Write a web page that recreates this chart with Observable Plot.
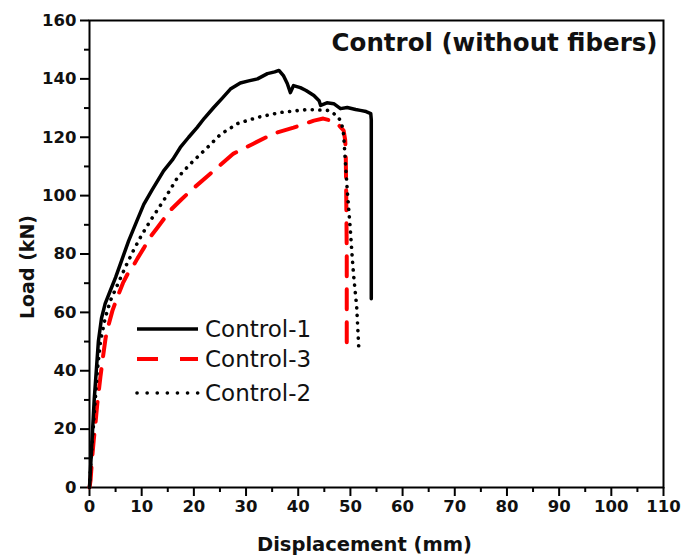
<!DOCTYPE html>
<html>
<head>
<meta charset="utf-8">
<script src="https://cdn.jsdelivr.net/npm/d3@7"></script>
<script src="https://cdn.jsdelivr.net/npm/@observablehq/plot@0.6"></script>
<style>
  html, body { margin: 0; padding: 0; background: #fff; }
  #chart svg { font-family: "DejaVu Sans", sans-serif; overflow: visible; }
</style>
</head>
<body>
<div id="chart"></div>
<script>
// Series: Control-1 (solid black)
const c1x = [0, 0.3, 0.6, 0.9, 1.3, 1.7, 2.3, 3.0, 4.0, 5.0, 6.2, 7.5, 9.0, 10.4, 12.0, 14.2, 16.0, 17.4, 19.0, 20.6, 22.0, 23.8, 25.5, 27.0, 28.9, 30.5, 32.2, 34.1, 35.5, 36.3, 37.2, 37.9, 38.5, 39.1, 40.4, 41.5, 43.0, 44.0, 44.3, 45.5, 46.8, 48.1, 49.4, 51.0, 51.9, 53.0, 53.9, 54.0, 54.0];
const c1y = [0, 10, 20, 30, 40, 50, 58, 63, 67.5, 72, 78, 84.5, 91, 97, 102, 108.5, 112.5, 116.5, 120, 123.3, 126.5, 130.2, 133.5, 136.5, 138.6, 139.3, 140, 141.8, 142.4, 142.9, 141, 138.4, 135.3, 137.7, 137, 136, 134.3, 132.5, 130.9, 131.8, 131.5, 129.8, 130.2, 129.5, 129.2, 128.8, 128.1, 126, 64.7];
// Series: Control-2 (dotted black)
const c2x = [0, 0.3, 0.7, 1.1, 1.5, 2.1, 3.0, 4.0, 5.5, 7.0, 8.5, 10.0, 11.7, 14.2, 16.8, 19.4, 22.6, 25.1, 28.4, 32.2, 36.6, 41.8, 45.6, 47.5, 48.3, 48.7, 48.9, 49.4, 50.0, 50.3, 50.6, 51.2, 51.6];
const c2y = [0, 10, 20, 30, 40, 50, 58, 64, 70, 76, 81.5, 86.5, 91.5, 98.3, 106, 111, 116.5, 121, 124.7, 126.8, 128.5, 129.5, 129.2, 127.4, 125, 121, 115.4, 101.7, 88, 80, 73, 62, 48];
// Series: Control-3 (dashed red)
const c3x = [0, 0.2, 0.5, 0.8, 1.2, 1.5, 2.1, 2.6, 3.1, 3.7, 4.4, 5.4, 6.4, 7.4, 8.4, 9.2, 10.4, 11.7, 13.0, 15.5, 17.5, 19.4, 23.2, 27.6, 31.4, 35.3, 39.1, 43.0, 44.8, 46.3, 47.5, 48.7, 49.0, 49.1, 49.2, 49.3, 49.3, 49.3];
const c3y = [0, 2.4, 10, 16, 23, 28.8, 38, 45, 51.4, 56, 60.6, 65.5, 70, 73.5, 76, 78.5, 82, 86, 89, 95, 98.5, 101.7, 107.6, 114.4, 117.8, 121.3, 123.3, 125.7, 126.4, 125.7, 124.7, 122.3, 119, 115.4, 100, 80, 60, 46];

const xTicks = [0, 10, 20, 30, 40, 50, 60, 70, 80, 90, 100, 110];
const xMinor = [5, 15, 25, 35, 45, 55, 65, 75, 85, 95, 105];
const yTicks = [0, 20, 40, 60, 80, 100, 120, 140, 160];
const yMinor = [10, 30, 50, 70, 90, 110, 130, 150];

const seriesNames = ["Control-1", "Control-3", "Control-2"];
const titleText = "Control (without fibers)";
const xLabel = "Displacement (mm)";
const yLabel = "Load (kN)";

const toRows = (xs, ys) => xs.map((x, i) => ({x, y: ys[i]}));
const s1 = toRows(c1x, c1y), s2 = toRows(c2x, c2y), s3 = toRows(c3x, c3y);

const chart = Plot.plot({
  width: 681,
  height: 555,
  marginLeft: 89,
  marginRight: 18,
  marginTop: 20,
  marginBottom: 68,
  x: {domain: [0, 110]},
  y: {domain: [0, 160]},
  marks: [
    Plot.frame({stroke: "#000", strokeWidth: 2}),
    Plot.axisX(xTicks, {tickSize: 9, tickPadding: 4, strokeWidth: 2, fontSize: 16.5, fontWeight: "bold", fill: "#111", label: null}),
    Plot.axisX(xMinor, {tickSize: 5, strokeWidth: 2, text: null, label: null}),
    Plot.axisY(yTicks, {tickSize: 9, tickPadding: 4, strokeWidth: 2, fontSize: 16.5, fontWeight: "bold", fill: "#111", label: null}),
    Plot.axisY(yMinor, {tickSize: 5, strokeWidth: 2, text: null, label: null}),
    Plot.line(s3, {x: "x", y: "y", stroke: "#ff0000", strokeWidth: 4, strokeDasharray: "20,13"}),
    Plot.line(s2, {x: "x", y: "y", stroke: "#000", strokeWidth: 3.6, strokeDasharray: "0.1,7.5", strokeLinecap: "round"}),
    Plot.line(s1, {x: "x", y: "y", stroke: "#000", strokeWidth: 3.5}),
    Plot.text([titleText], {frameAnchor: "top-right", dx: -6, dy: 23, lineAnchor: "middle", textAnchor: "end", fontSize: 24.5, fontWeight: "bold", fill: "#111"}),
    Plot.text([xLabel], {frameAnchor: "bottom", dx: -12, dy: 57, lineAnchor: "middle", textAnchor: "middle", fontSize: 19.5, fontWeight: "bold", fill: "#111"}),
    Plot.text([yLabel], {frameAnchor: "left", dx: -62, dy: 13, rotate: -90, lineAnchor: "middle", textAnchor: "middle", fontSize: 19, fontWeight: "bold", fill: "#111"})
  ]
});
document.getElementById("chart").appendChild(chart);

// Legend (inside plot area)
const svg = d3.select(chart);
const leg = svg.append("g");
const legStyles = [
  {stroke: "#000", width: 3.5, dash: null, cap: "butt", y: 329},
  {stroke: "#ff0000", width: 4, dash: "21,22", cap: "butt", y: 359},
  {stroke: "#000", width: 3.6, dash: "0.1,10", cap: "round", y: 393}
];
seriesNames.forEach((name, i) => {
  const st = legStyles[i];
  leg.append("line")
    .attr("x1", 137).attr("x2", 198).attr("y1", st.y).attr("y2", st.y)
    .attr("stroke", st.stroke).attr("stroke-width", st.width)
    .attr("stroke-dasharray", st.dash).attr("stroke-linecap", st.cap);
  leg.append("text")
    .attr("x", 205).attr("y", st.y).attr("dy", "0.36em")
    .attr("text-anchor", "start")
    .attr("font-size", 23).attr("fill", "#111")
    .text(name);
});
</script>
</body>
</html>
